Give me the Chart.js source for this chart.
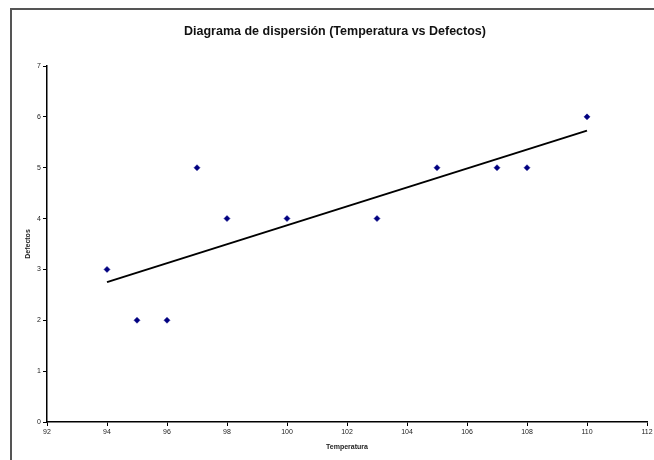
<!DOCTYPE html>
<html>
<head>
<meta charset="utf-8">
<script src="https://cdn.jsdelivr.net/npm/chart.js@4.4.0/dist/chart.umd.min.js"></script>
<style>
  html, body { margin: 0; padding: 0; background: #fff; }
  #wrap { width: 654px; height: 460px; }
</style>
</head>
<body>
<div id="wrap"><canvas id="myChart" width="654" height="460"></canvas></div>
<script>
// datos del diagrama
const temperatura = [94, 95, 96, 97, 98, 100, 103, 105, 107, 108, 110];
const defectos = [3, 2, 2, 5, 4, 4, 4, 5, 5, 5, 6];
// linea de tendencia (extremos)
const tendenciaX = [94, 110];
const tendenciaY = [2.75, 5.73];

const puntos = temperatura.map((t, i) => ({ x: t, y: defectos[i] }));
const tendencia = tendenciaX.map((t, i) => ({ x: t, y: tendenciaY[i] }));

const fontTicks = { family: 'Liberation Sans, Arial, sans-serif', size: 7 };
const fontTitulo = { family: 'Liberation Sans, Arial, sans-serif', size: 7, weight: 'bold' };

// marco gris del area del grafico
const marco = {
  id: 'marco',
  beforeDraw(chart) {
    const ctx = chart.ctx;
    ctx.save();
    ctx.fillStyle = '#fff';
    ctx.fillRect(0, 0, chart.width, chart.height);
    ctx.strokeStyle = '#555';
    ctx.lineWidth = 2;
    ctx.strokeRect(11, 9, 700, 500);
    ctx.restore();
  }
};

const ctx = document.getElementById('myChart');
new Chart(ctx, {
  type: 'scatter',
  data: {
    datasets: [
      {
        label: 'Defectos',
        data: puntos,
        backgroundColor: '#000080',
        borderColor: '#000080',
        borderWidth: 0.5,
        pointStyle: 'rectRot',
        pointRadius: 3,
        pointHoverRadius: 3,
        order: 1
      },
      {
        label: 'Tendencia',
        data: tendencia,
        showLine: true,
        borderColor: '#000',
        borderWidth: 2,
        pointRadius: 0,
        pointHoverRadius: 0,
        order: 2
      }
    ]
  },
  options: {
    responsive: false,
    animation: false,
    layout: { padding: { left: 16, right: 0, top: 0, bottom: 0 } },
    plugins: {
      legend: { display: false },
      tooltip: { enabled: false },
      title: {
        display: true,
        text: 'Diagrama de dispersión (Temperatura vs Defectos)',
        color: '#111',
        font: { family: 'Liberation Sans, Arial, sans-serif', size: 12.5, weight: 'bold' },
        padding: { top: 24.5, bottom: 26.5 }
      }
    },
    scales: {
      x: {
        type: 'linear',
        min: 92,
        max: 112,
        ticks: { stepSize: 2, color: '#222', font: fontTicks, padding: 2, maxRotation: 0 },
        grid: { drawOnChartArea: false, drawTicks: true, tickLength: 4, color: '#000', tickWidth: 1 },
        border: { display: true, color: '#000', width: 1.5 },
        title: { display: true, text: 'Temperatura', color: '#222', font: fontTitulo, padding: { top: 0, bottom: 9 } },
        afterFit(scale) {
          scale.height = 38;
          scale.paddingRight = 7;
        }
      },
      y: {
        min: 0,
        max: 7,
        ticks: { stepSize: 1, color: '#222', font: fontTicks, padding: 2 },
        grid: { drawOnChartArea: false, drawTicks: true, tickLength: 4, color: '#000', tickWidth: 1 },
        border: { display: true, color: '#000', width: 1.5 },
        title: { display: true, text: 'Defectos', color: '#222', font: fontTitulo, padding: { top: 8, bottom: 0 } },
        afterFit(scale) {
          scale.width = 31;
        }
      }
    }
  },
  plugins: [marco]
});
</script>
</body>
</html>
